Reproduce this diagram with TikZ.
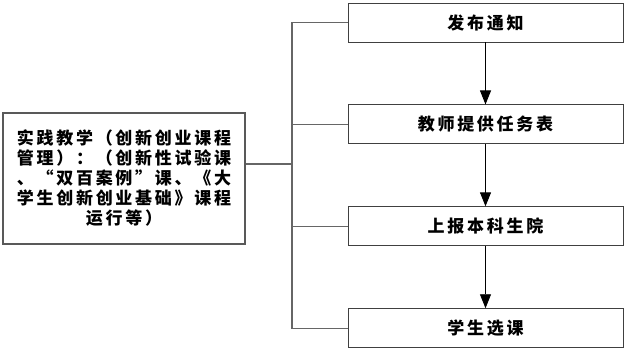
\documentclass[tikz,border=0pt]{standalone}
\usepackage{fontspec}
\setmainfont{Noto Sans CJK SC}[LetterSpace=16]
\usetikzlibrary{arrows.meta, positioning}

\begin{document}
\begin{tikzpicture}[
  x=1pt, y=-1pt,
  font=\fontsize{17}{20}\selectfont\bfseries,
  >={Triangle[length=14pt, width=11pt]},
  stepbox/.style={draw=black!75, line width=0.9pt, minimum width=275pt,
                  minimum height=39pt, inner sep=0pt},
  mainbox/.style={draw=black!65, line width=1.2pt, align=center,
                  minimum width=242pt, minimum height=131pt, inner sep=0pt},
  link/.style={draw=black!60, line width=1.1pt},
  arr/.style={draw=black, line width=0.9pt, ->}
]
  \useasboundingbox (0,0) rectangle (626,348);
  \node[mainbox] (main) at (124,178.5)
    {实践教学（创新创业课程\\管理）：（创新性试验课\\、“双百案例”课、《大\\学生创新创业基础》课程\\运行等）};
  \node[stepbox] (s1) at (485.5,22.5) {发布通知};
  \node[stepbox, below=62pt of s1] (s2) {教师提供任务表};
  \node[stepbox, below=62pt of s2] (s3) {上报本科生院};
  \node[stepbox, below=62pt of s3] (s4) {学生选课};
  \coordinate (hub) at (292,164);
  \draw[link] (main.east |- hub) -- (hub);
  \draw[link] (s1.west) -| (hub |- s4.west) -- (s4.west);
  \draw[link] (hub |- s2.west) -- (s2.west);
  \draw[link] (hub |- s3.west) -- (s3.west);
  \draw[arr] (s1) -- (s2);
  \draw[arr] (s2) -- (s3);
  \draw[arr] (s3) -- (s4);
\end{tikzpicture}
\end{document}
